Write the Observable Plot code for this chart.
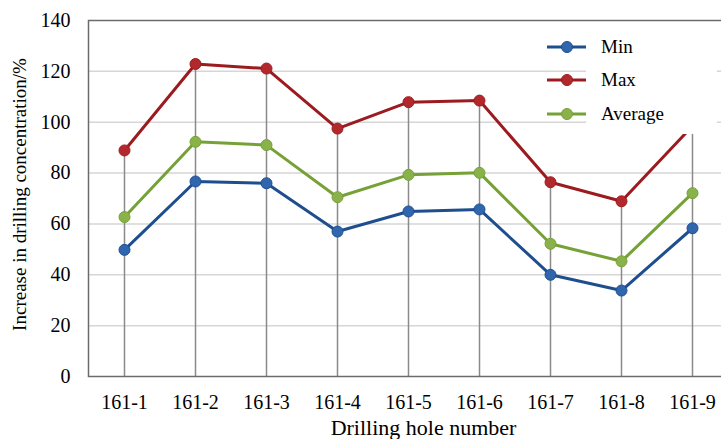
<!DOCTYPE html>
<html>
<head>
<meta charset="utf-8">
<script src="https://cdn.jsdelivr.net/npm/d3@7"></script>
<script src="https://cdn.jsdelivr.net/npm/@observablehq/plot@0.6"></script>
<style>
  html, body { margin: 0; padding: 0; background: #fff; }
  #wrap { position: relative; width: 721px; height: 439px; overflow: hidden; font-family: "Liberation Serif", "Times New Roman", serif; }
  #wrap svg text { font-family: "Liberation Serif", "Times New Roman", serif; }
  #legend { position: absolute; left: 547px; top: 22px; width: 170px; height: 112px; }
  #legend .bg { position: absolute; left: 39px; top: 0; width: 131px; height: 112px; background: #fff; }
  #legend .row { position: absolute; left: 0; height: 20px; display: flex; align-items: center; }
  #legend .row svg { display: block; }
  #legend .row span { position: absolute; left: 54px; font-size: 19px; line-height: 20px; white-space: nowrap; color: #000; }
</style>
</head>
<body>
<div id="wrap"></div>
<script>
const holes = ["161-1","161-2","161-3","161-4","161-5","161-6","161-7","161-8","161-9"];
const minVals = [49.8, 76.7, 76.0, 57.0, 64.9, 65.7, 40.0, 33.8, 58.3];
const maxVals = [88.9, 122.9, 121.1, 97.5, 107.9, 108.5, 76.4, 68.9, 98.5];
const avgVals = [62.7, 92.3, 91.0, 70.5, 79.3, 80.1, 52.2, 45.3, 72.1];
const yTicks = [0, 20, 40, 60, 80, 100, 120, 140];
const seriesNames = ["Min", "Max", "Average"];
const seriesValues = [minVals, maxVals, avgVals];
const lineColors = ["#1f4e8f", "#9b1b1e", "#76a136"];
const dotColors = ["#2f66ad", "#b3282c", "#8ab24a"];
const xTitle = "Drilling hole number";
const yTitle = "Increase in drilling concentration/%";

const serif = "'Liberation Serif', 'Times New Roman', serif";
const rows = [];
seriesNames.forEach((s, k) => holes.forEach((h, i) => rows.push({hole: h, series: s, value: seriesValues[k][i]})));
const dropRows = holes.map((h, i) => ({hole: h, top: Math.max(minVals[i], maxVals[i], avgVals[i])}));

const marks = [
  Plot.ruleY(yTicks.filter(t => t > 0 && t < 140), {stroke: "#d6d6d6", strokeWidth: 1.5}),
  Plot.ruleX(dropRows, {x: "hole", y1: 0, y2: "top", stroke: "#8a8a8a", strokeWidth: 1.5}),
  Plot.frame({stroke: "#6b6b6b", strokeWidth: 1.5})
];
seriesNames.forEach((s, k) => {
  const d = rows.filter(r => r.series === s);
  marks.push(Plot.line(d, {x: "hole", y: "value", stroke: lineColors[k], strokeWidth: 3}));
  marks.push(Plot.dot(d, {x: "hole", y: "value", r: 5.5, fill: dotColors[k], stroke: lineColors[k], strokeWidth: 1}));
});
marks.push(
  Plot.axisX({tickSize: 0, tickPadding: 18, label: null, fontSize: 20, fontFamily: serif, fill: "#000"}),
  Plot.axisY({ticks: yTicks, tickSize: 0, tickPadding: 18, label: null, fontSize: 20, fontFamily: serif, fill: "#000"}),
  Plot.text([xTitle], {text: d => d, frameAnchor: "bottom", dx: 15.5, dy: 51, lineAnchor: "middle", textAnchor: "middle", fontSize: 22, fontFamily: serif, fill: "#000"}),
  Plot.text([yTitle], {text: d => d, frameAnchor: "left", dx: -69, dy: -4, rotate: -90, lineAnchor: "middle", textAnchor: "middle", fontSize: 19, fontFamily: serif, fill: "#000"})
);

const chart = Plot.plot({
  width: 721,
  height: 439,
  marginLeft: 88,
  marginRight: -6,
  marginTop: 20,
  marginBottom: 63,
  style: {fontFamily: serif, fontSize: "20px", color: "#000", background: "#fff", overflow: "hidden"},
  x: {type: "point", domain: holes, padding: 0.5},
  y: {domain: [0, 140]},
  marks
});
const wrap = document.getElementById("wrap");
wrap.appendChild(chart);

// legend overlay
const legend = document.createElement("div");
legend.id = "legend";
const bg = document.createElement("div");
bg.className = "bg";
legend.appendChild(bg);
const rowTops = [24.7, 58, 92.3];
seriesNames.forEach((s, k) => {
  const row = document.createElement("div");
  row.className = "row";
  row.style.top = (rowTops[k] - 10) + "px";
  row.innerHTML = `<svg width="40" height="20"><line x1="0" x2="39" y1="10" y2="10" stroke="${lineColors[k]}" stroke-width="3"/><circle cx="20" cy="10" r="5.5" fill="${dotColors[k]}" stroke="${lineColors[k]}" stroke-width="1"/></svg><span>${s}</span>`;
  legend.appendChild(row);
});
wrap.appendChild(legend);
</script>
</body>
</html>
